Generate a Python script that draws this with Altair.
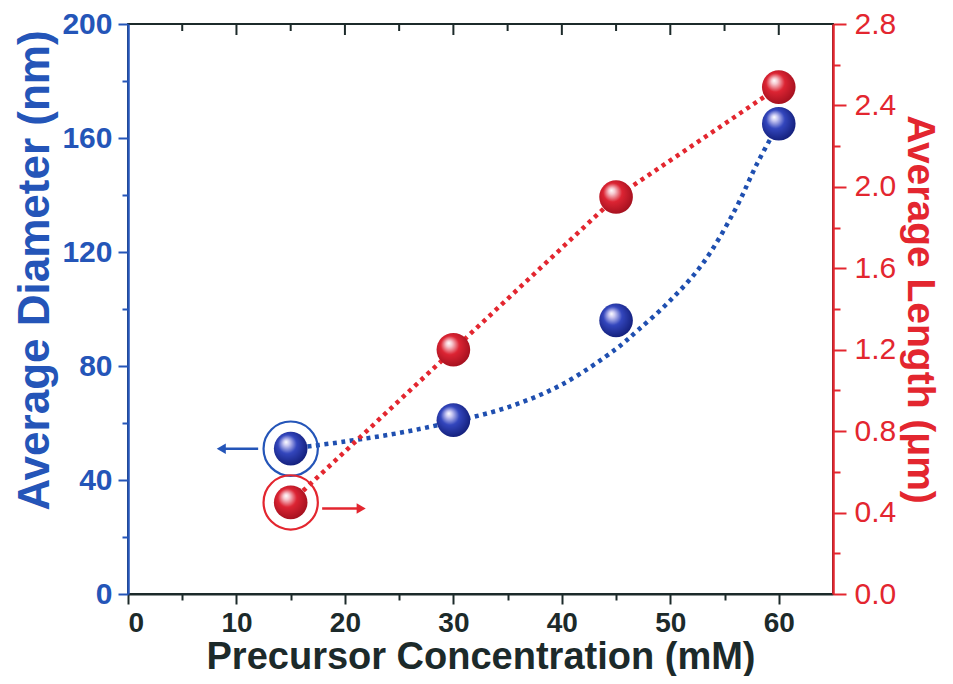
import altair as alt
import pandas as pd

# ---- data ----
conc = [15, 30, 45, 60]
diameter = [51, 61, 96, 165]
length_um = [0.45, 1.2, 1.95, 2.49]

blue_fit_x = [15, 20, 25, 30, 35, 40, 45, 47, 50, 53, 56, 58, 60]
blue_fit_y = [51, 53.5, 56.5, 60.5, 65.5, 73.5, 86, 92.5, 103, 116, 135, 151, 165]

# arrow annotations (data coords)
blue_arrow_x = [12.0, 8.6]
blue_arrow_y = 51
red_arrow_x = [17.9, 21.5]
red_arrow_y = 0.42

x_ticks = [0, 5, 10, 15, 20, 25, 30, 35, 40, 45, 50, 55, 60]
top_major = [10, 20, 30, 40, 50, 60]
top_minor = [5, 15, 25, 35, 45, 55]
left_ticks = [0, 20, 40, 60, 80, 100, 120, 140, 160, 180, 200]
right_ticks = [round(i * 0.2, 1) for i in range(15)]

BLUE = "#2455B8"
BLUE_DOT = "#1f4fb0"
RED = "#E3262F"
DARK = "#1c2a2a"
FONT = "Liberation Sans"

df_pts = pd.DataFrame({"conc": conc, "diameter": diameter, "length": length_um})
df_bfit = pd.DataFrame({"conc": blue_fit_x, "diameter": blue_fit_y})
df_barrow = pd.DataFrame({"conc": [blue_arrow_x[0]], "conc2": [blue_arrow_x[1]], "diameter": [blue_arrow_y]})
df_barrow_head = pd.DataFrame({"conc": [blue_arrow_x[1]], "diameter": [blue_arrow_y]})
df_rarrow = pd.DataFrame({"conc": [red_arrow_x[0]], "conc2": [red_arrow_x[1]], "length": [red_arrow_y]})
df_rarrow_head = pd.DataFrame({"conc": [red_arrow_x[1]], "length": [red_arrow_y]})
df_top_major = pd.DataFrame({"conc": top_major})
df_top_minor = pd.DataFrame({"conc": top_minor})

XT = "Precursor Concentration (mM)"
YB = "Average Diameter (nm)"
YR = "Average Length (μm)"

xscale = alt.Scale(domain=[0, 65], nice=False, zero=False)
xaxis = alt.Axis(
    values=x_ticks,
    labelExpr="datum.value % 10 == 0 ? datum.label : ''",
    tickSize={"condition": {"test": "datum.value % 10 == 0", "value": 10}, "value": 6},
    tickColor=DARK, tickWidth=2, domainColor=DARK, domainWidth=2,
    labelColor=DARK, labelFont=FONT, labelFontSize=28, labelFontWeight="bold",
    labelPadding=5, titleColor=DARK, titleFont=FONT, titleFontSize=38,
    titleFontWeight="bold", titleBaseline="alphabetic", titleY=74,
    grid=False, orient="bottom",
)
bscale = alt.Scale(domain=[0, 200], nice=False, zero=False)
baxis = alt.Axis(
    values=left_ticks, orient="left",
    labelExpr="datum.value % 40 == 0 ? datum.label : ''",
    tickSize={"condition": {"test": "datum.value % 40 == 0", "value": 10}, "value": 6},
    tickColor=BLUE, tickWidth=2, domainColor=BLUE, domainWidth=2.5,
    labelColor=BLUE, labelFont=FONT, labelFontSize=30, labelFontWeight="bold",
    labelPadding=6,
    titleColor=BLUE, titleFont=FONT, titleFontSize=44, titleFontWeight="bold",
    titlePadding=4, titleY=246, grid=False,
)
rscale = alt.Scale(domain=[0, 2.8], nice=False, zero=False)
raxis = alt.Axis(
    values=right_ticks, orient="right",
    labelExpr="round(datum.value * 10) % 4 == 0 ? format(datum.value, '.1f') : ''",
    tickSize={"condition": {"test": "round(datum.value * 10) % 4 == 0", "value": 13}, "value": 7},
    tickColor=RED, tickWidth=2, domainColor=RED, domainWidth=2.5,
    labelColor=RED, labelFont=FONT, labelFontSize=30, labelPadding=8,
    titleColor=RED, titleFont=FONT, titleFontSize=39, titleFontWeight="bold",
    titlePadding=4, grid=False,
)

def X(field="conc"):
    return alt.X(f"{field}:Q", scale=xscale, axis=xaxis, title=XT)

def YBl():
    return alt.Y("diameter:Q", scale=bscale, axis=baxis, title=YB)

def YRe():
    return alt.Y("length:Q", scale=rscale, axis=raxis, title=YR)

blue_grad = {
    "gradient": "radial",
    "x1": 0.36, "y1": 0.3, "r1": 0.0,
    "x2": 0.45, "y2": 0.45, "r2": 0.62,
    "stops": [
        {"offset": 0.0, "color": "#ffffff"},
        {"offset": 0.15, "color": "#c9c8f2"},
        {"offset": 0.45, "color": "#3346bd"},
        {"offset": 1.0, "color": "#0f1a72"},
    ],
}
red_grad = {
    "gradient": "radial",
    "x1": 0.36, "y1": 0.3, "r1": 0.0,
    "x2": 0.45, "y2": 0.45, "r2": 0.62,
    "stops": [
        {"offset": 0.0, "color": "#ffffff"},
        {"offset": 0.15, "color": "#f6c8cf"},
        {"offset": 0.45, "color": "#dc2433"},
        {"offset": 1.0, "color": "#9c0e1c"},
    ],
}

# ---- blue group (left axis) ----
b_line = alt.Chart(df_bfit).mark_line(
    color=BLUE_DOT, strokeWidth=4.5, strokeDash=[4, 4.5], interpolate="catmull-rom"
).encode(x=X(), y=YBl())
b_ring = alt.Chart(df_pts[df_pts.conc == 15]).mark_point(
    shape="circle", filled=False, size=2950, stroke=BLUE, strokeWidth=2.2, opacity=1
).encode(x=X(), y=YBl())
b_arrow = alt.Chart(df_barrow).mark_rule(color=BLUE, strokeWidth=2.5).encode(
    x=X(), x2="conc2:Q", y=YBl())
b_head = alt.Chart(df_barrow_head).mark_point(
    shape="triangle-left", filled=True, size=110, color=BLUE, opacity=1
).encode(x=X(), y=YBl())
b_pts = alt.Chart(df_pts).mark_point(
    shape="circle", filled=True, size=1130, fill=blue_grad, strokeWidth=0, opacity=1
).encode(x=X(), y=YBl())
blue = alt.layer(b_line, b_ring, b_arrow, b_head, b_pts)

# ---- red group (right axis) ----
r_line = alt.Chart(df_pts).mark_line(
    color=RED, strokeWidth=4.5, strokeDash=[4, 4.5]
).encode(x=X(), y=YRe())
r_ring = alt.Chart(df_pts[df_pts.conc == 15]).mark_point(
    shape="circle", filled=False, size=2950, stroke=RED, strokeWidth=2.2, opacity=1
).encode(x=X(), y=YRe())
r_arrow = alt.Chart(df_rarrow).mark_rule(color=RED, strokeWidth=2.5).encode(
    x=X(), x2="conc2:Q", y=YRe())
r_head = alt.Chart(df_rarrow_head).mark_point(
    shape="triangle-right", filled=True, size=110, color=RED, opacity=1
).encode(x=X(), y=YRe())
r_pts = alt.Chart(df_pts).mark_point(
    shape="circle", filled=True, size=1130, fill=red_grad, strokeWidth=0, opacity=1
).encode(x=X(), y=YRe())
red = alt.layer(r_line, r_ring, r_arrow, r_head, r_pts)

# ---- top frame ticks (inward) ----
top_maj = alt.Chart(df_top_major).mark_rule(color=DARK, strokeWidth=2).encode(
    x=X(), y=alt.value(0), y2=alt.value(11))
top_min = alt.Chart(df_top_minor).mark_rule(color=DARK, strokeWidth=2).encode(
    x=X(), y=alt.value(0), y2=alt.value(7))

chart = alt.layer(blue, red, top_maj, top_min).resolve_scale(
    y="independent"
).properties(
    width=705, height=570,
    autosize=alt.AutoSizeParams(type="none"),
    padding={"left": 120, "top": 16, "right": 112, "bottom": 82},
    background="white",
).configure_view(stroke=DARK, strokeWidth=2)

chart.save("out.html", embed_options={"renderer": "svg", "actions": False})
